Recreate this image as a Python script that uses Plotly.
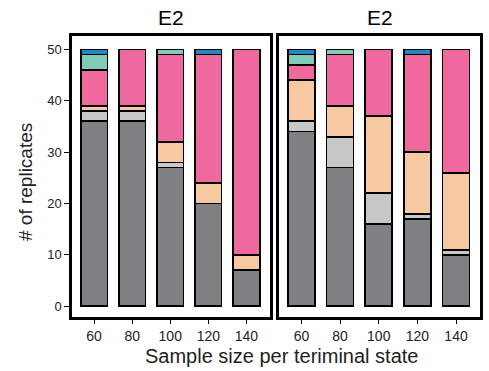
import plotly.graph_objects as go
from plotly.subplots import make_subplots

sizes = ["60", "80", "100", "120", "140"]
panel_titles = ["E2", "E2"]
state_names = ["dark", "lightgray", "peach", "pink", "teal", "blue"]
state_colors = ["#807f83", "#c8c8c8", "#f6c9a3", "#ef699e", "#80ccb8", "#2388c1"]

# left panel values per state (bottom -> top)
left_dark = [36, 36, 27, 20, 7]
left_lgray = [2, 2, 1, 0, 0]
left_peach = [1, 1, 4, 4, 3]
left_pink = [7, 11, 17, 25, 40]
left_teal = [3, 0, 1, 0, 0]
left_blue = [1, 0, 0, 1, 0]

# right panel values per state
right_dark = [34, 27, 16, 17, 10]
right_lgray = [2, 6, 6, 1, 1]
right_peach = [8, 6, 15, 12, 15]
right_pink = [3, 10, 13, 19, 24]
right_teal = [2, 1, 0, 0, 0]
right_blue = [1, 0, 0, 1, 0]

left = [left_dark, left_lgray, left_peach, left_pink, left_teal, left_blue]
right = [right_dark, right_lgray, right_peach, right_pink, right_teal, right_blue]

y_ticks = [0, 10, 20, 30, 40, 50]

W, H = 489, 371
fig = make_subplots(rows=1, cols=2)

for col, panel in enumerate([left, right], start=1):
    for name, color, vals in zip(state_names, state_colors, panel):
        fig.add_trace(go.Bar(
            x=sizes, y=vals, name=name, marker_color=color,
            marker_line_color="black", marker_line_width=1.7,
            width=0.7, showlegend=False,
        ), row=1, col=col)

font = "Liberation Sans, Arial, sans-serif"
ydom = [1 - 317 / H, 1 - 36 / H]
fig.update_layout(
    width=W, height=H, barmode="stack",
    margin=dict(l=0, r=0, t=0, b=0),
    paper_bgcolor="white", plot_bgcolor="white",
    font=dict(family=font, color="black"),
    xaxis=dict(domain=[72 / W, 270 / W]),
    xaxis2=dict(domain=[279 / W, 480 / W]),
    yaxis=dict(domain=ydom),
    yaxis2=dict(domain=ydom),
)
for ax in ["xaxis", "xaxis2"]:
    fig.layout[ax].update(
        range=[-0.58, 4.62], showline=True, mirror=True, linecolor="black",
        linewidth=2.5, ticks="outside", ticklen=4, tickwidth=1.2, tickcolor="black",
        tickfont=dict(size=14, color="#222"), showgrid=False, zeroline=False,
        type="category",
    )
fig.layout.yaxis.update(
    range=[-2.1, 52.6], tickvals=y_ticks, showline=True, mirror=True,
    linecolor="black", linewidth=2.5, ticks="outside", ticklen=5, tickwidth=1.2,
    tickcolor="black", tickfont=dict(size=13, color="#222"), showgrid=False,
    zeroline=False,
)
fig.layout.yaxis2.update(
    range=[-2.1, 52.6], showline=True, mirror=True, linecolor="black",
    linewidth=2.5, showticklabels=False, ticks="", showgrid=False, zeroline=False,
    matches="y",
)

for i, t in enumerate(panel_titles):
    xref = "x domain" if i == 0 else "x2 domain"
    fig.add_annotation(text=t, x=0.5, y=1 - 18 / H, xref=xref, yref="paper",
                       yanchor="middle", showarrow=False,
                       font=dict(size=21, family=font))

fig.add_annotation(text="# of replicates", x=25 / W, y=1 - 182 / H,
                   xref="paper", yref="paper", xanchor="center",
                   yanchor="middle", textangle=-90, showarrow=False,
                   font=dict(size=19, family=font, color="#222"))

fig.add_annotation(text="Sample size per teriminal state", x=281 / W,
                   y=1 - 356 / H, xref="paper", yref="paper", showarrow=False,
                   yanchor="middle",
                   font=dict(size=20, family=font, color="#222"))

fig.write_html("out.html")
